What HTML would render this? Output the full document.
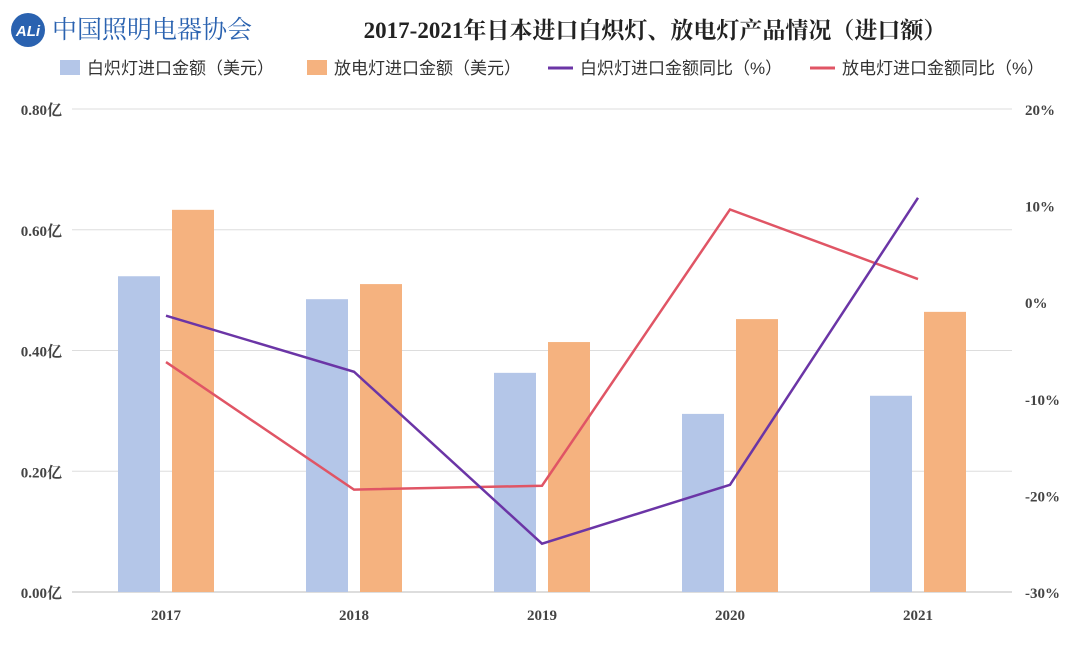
<!DOCTYPE html>
<html><head><meta charset="utf-8">
<style>
body{margin:0;background:#fff;width:1080px;height:640px;overflow:hidden;font-family:"Liberation Serif","Noto Serif CJK SC",serif;}
</style></head>
<body>
<svg id="chart" width="1080" height="640" xmlns="http://www.w3.org/2000/svg">
<g>
<circle cx="28" cy="30" r="17" fill="#2a62b0"/>
<text x="28" y="36" text-anchor="middle" font-family="Liberation Sans, sans-serif" font-weight="bold" font-size="15" fill="#fff" font-style="italic">ALi</text>
<text x="52" y="38" font-family="Noto Serif CJK SC, serif" font-size="25" fill="#2a62b0">中国照明电器协会</text>
</g>
<text x="655" y="38" text-anchor="middle" font-weight="bold" font-size="23" fill="#222">2017-2021年日本进口白炽灯、放电灯产品情况（进口额）</text>
<g id="legend" font-family="Liberation Sans, Noto Sans CJK SC, sans-serif" font-size="17" fill="#333">
<g><rect x="60" y="60" width="20" height="15" fill="#b4c6e8"/><text x="87" y="74">白炽灯进口金额（美元）</text></g>
<g><rect x="307" y="60" width="20" height="15" fill="#f5b27f"/><text x="334" y="74">放电灯进口金额（美元）</text></g>
<g><line x1="548" y1="68" x2="573" y2="68" stroke="#6b35a6" stroke-width="3"/><text x="580" y="74">白炽灯进口金额同比（%）</text></g>
<g><line x1="810" y1="68" x2="835" y2="68" stroke="#e05565" stroke-width="3"/><text x="842" y="74">放电灯进口金额同比（%）</text></g>
</g>
<g id="grid"></g><g id="bars"></g><g id="lines"></g><g id="axes"></g>
</svg>
<script>
const categories=["2017","2018","2019","2020","2021"];
const incandescentValue=[0.523,0.485,0.363,0.295,0.325];
const dischargeValue=[0.633,0.510,0.414,0.452,0.464];
const incandescentYoy=[-1.4,-7.2,-25.0,-18.9,10.8];
const dischargeYoy=[-6.2,-19.4,-19.0,9.6,2.4];
const leftTicks=[0,0.2,0.4,0.6,0.8];
const leftTickLabels=["0.00亿","0.20亿","0.40亿","0.60亿","0.80亿"];
const rightTicks=[-30,-20,-10,0,10,20];
const rightTickLabels=["-30%","-20%","-10%","0%","10%","20%"];
const NS="http://www.w3.org/2000/svg";
const plotTop=109,plotBottom=592,x0=72,x1=1012;
const yL=v=>plotBottom-(v/0.8)*(plotBottom-plotTop);
const yR=v=>plotBottom-((v+30)/50)*(plotBottom-plotTop);
const band=(x1-x0)/categories.length;
const xC=i=>x0+band*(i+0.5);
function mk(tag,parent,attrs){const e=document.createElementNS(NS,tag);for(const k in attrs)e.setAttribute(k,attrs[k]);document.getElementById(parent).appendChild(e);return e;}
leftTicks.forEach((t,i)=>{
 const g=mk('line','grid',{x1:x0,x2:x1,y1:yL(t),y2:yL(t),stroke:i==0?'#bbb':'#ddd','stroke-width':1});
 
 
 const tx=mk('text','axes',{x:62,y:yL(t)+6,'text-anchor':'end','font-size':15,'font-weight':'bold',fill:'#444'});
 
 
 tx.textContent=leftTickLabels[i];
});
rightTicks.forEach((t,i)=>{
 const tx=mk('text','axes',{x:1025,y:yR(t)+6,'font-size':15,'font-weight':'bold',fill:'#444'});
 
 
 tx.textContent=rightTickLabels[i];
});
const bw=42,gap=12;
categories.forEach((c,i)=>{
 const cx=xC(i);
 const b1=mk('rect','bars',{x:cx-gap/2-bw,y:yL(incandescentValue[i]),width:bw,height:plotBottom-yL(incandescentValue[i]),fill:'#b4c6e8'});
 
 
 const b2=mk('rect','bars',{x:cx+gap/2,y:yL(dischargeValue[i]),width:bw,height:plotBottom-yL(dischargeValue[i]),fill:'#f5b27f'});
 
 
 const tx=mk('text','axes',{x:cx,y:620,'text-anchor':'middle','font-size':15,'font-weight':'bold',fill:'#444'});
 
 
 tx.textContent=c;
});
function line(data,color,name){
 const p=mk('polyline','lines',{points:data.map((v,i)=>xC(i)+','+yR(v)).join(' '),fill:'none',stroke:color,'stroke-width':2.5});
 
 
}
line(dischargeYoy,'#e05565','line-discharge-yoy');
line(incandescentYoy,'#6b35a6','line-incandescent-yoy');
</script>
</body></html>
